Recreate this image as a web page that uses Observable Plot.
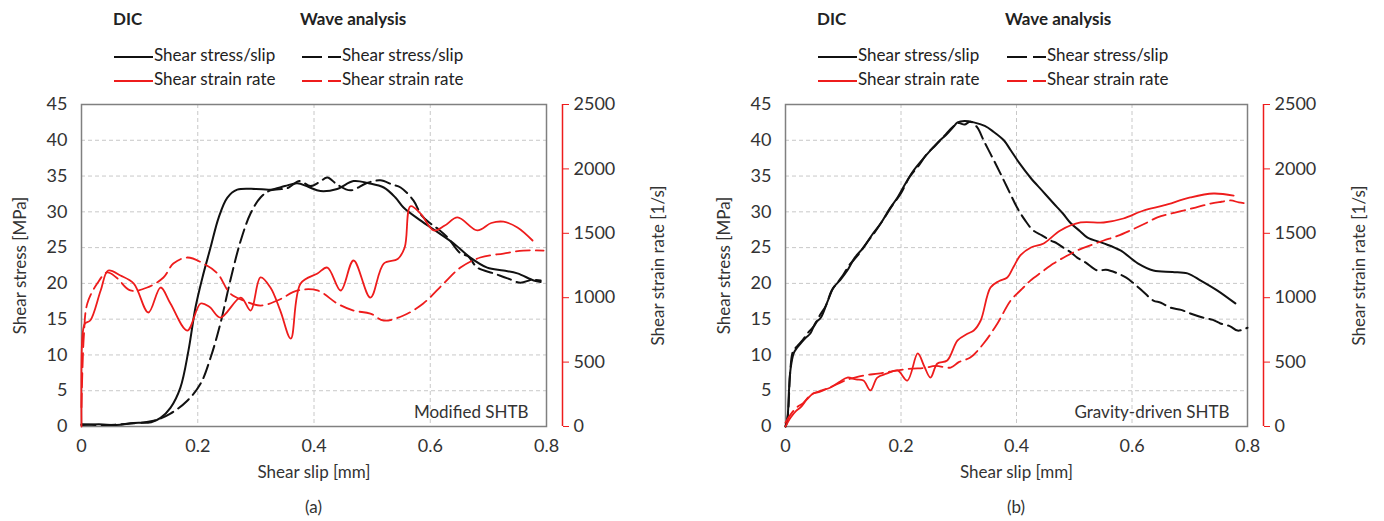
<!DOCTYPE html>
<html>
<head>
<meta charset="utf-8">
<script src="https://cdn.jsdelivr.net/npm/d3@7"></script>
<script src="https://cdn.jsdelivr.net/npm/@observablehq/plot@0.6"></script>
<style>
  body { margin: 0; background: #fff; }
  #root { position: relative; width: 1384px; height: 521px; font-family: Lato, "Open Sans", sans-serif; color: #333; overflow: hidden; }
  .panel { position: absolute; top: 0; width: 692px; height: 521px; }
  .panel svg.layer { position: absolute; left: 0; top: 90px; }
  .lg { position: absolute; font-size: 17px; line-height: 20px; white-space: nowrap; color: #222; }
  .lg.bold { font-weight: bold; }
  .cap { position: absolute; top: 496px; font-size: 17px; color: #333; transform: translateX(-50%); }
</style>
</head>
<body>
<div id="root"></div>
<script>
// Shear slip axis ticks and strain-rate axis ticks
const slipTicks = [0, 0.2, 0.4, 0.6, 0.8];
const stressTicks = [0, 5, 10, 15, 20, 25, 30, 35, 40, 45];
const rateTicks = [0, 500, 1000, 1500, 2000, 2500];

// (a) Modified SHTB — [shear slip (mm), shear stress (MPa)]
const aDicStress = [[0,0.2],[0.03,0.3],[0.06,0.2],[0.09,0.5],[0.12,0.6],[0.136,1.2],[0.153,2.6],[0.17,5.4],[0.184,10.6],[0.196,16.6],[0.208,20.8],[0.222,25],[0.236,29.2],[0.251,32],[0.268,33.1],[0.3,33.2],[0.325,33.1],[0.35,33.6],[0.371,34.0],[0.39,33.5],[0.411,32.9],[0.44,33.2],[0.468,34.3],[0.494,34.0],[0.52,33.4],[0.54,32],[0.554,30.6],[0.583,28.8],[0.612,27.2],[0.64,25.6],[0.669,23.6],[0.698,22.2],[0.726,21.8],[0.75,21.4],[0.778,20.4],[0.79,20.2]];
const aWaveStress = [[0,0.3],[0.04,0.2],[0.08,0.4],[0.124,0.8],[0.153,1.8],[0.182,3.6],[0.205,6],[0.222,9.6],[0.239,14.4],[0.256,20.4],[0.274,26],[0.291,29.8],[0.308,32],[0.325,33],[0.354,33.3],[0.375,34.3],[0.394,33.6],[0.41,34.2],[0.423,34.8],[0.44,33.8],[0.463,33.0],[0.49,34.0],[0.514,34.4],[0.535,33.8],[0.549,33.4],[0.571,31.6],[0.585,29.5],[0.6,28.4],[0.615,27.5],[0.63,26.4],[0.652,24.2],[0.665,23.8],[0.681,22.2],[0.709,21.4],[0.733,20.7],[0.755,20.1],[0.775,20.5],[0.79,20.4]];
// (a) — [shear slip (mm), shear strain rate (1/s)]
const aDicRate = [[0,0],[0.002,720],[0.006,800],[0.015,823],[0.033,1056],[0.046,1211],[0.067,1172],[0.09,1110],[0.115,885],[0.136,1079],[0.153,955],[0.182,745],[0.205,955],[0.22,930],[0.239,846],[0.274,1001],[0.291,900],[0.308,1157],[0.325,1079],[0.342,900],[0.36,683],[0.377,1110],[0.406,1188],[0.423,1234],[0.446,1056],[0.468,1289],[0.497,1001],[0.52,1265],[0.544,1300],[0.556,1390],[0.566,1710],[0.583,1654],[0.606,1522],[0.625,1560],[0.647,1623],[0.681,1522],[0.705,1580],[0.726,1590],[0.75,1545],[0.776,1444]];
const aWaveRate = [[0,150],[0.004,700],[0.01,955],[0.027,1110],[0.044,1196],[0.06,1157],[0.084,1056],[0.113,1079],[0.141,1157],[0.158,1265],[0.182,1312],[0.21,1265],[0.234,1188],[0.256,1032],[0.279,978],[0.308,939],[0.337,978],[0.372,1056],[0.406,1056],[0.44,955],[0.468,900],[0.497,877],[0.52,823],[0.554,862],[0.588,955],[0.623,1110],[0.652,1234],[0.686,1312],[0.726,1343],[0.76,1366],[0.795,1366]];

// (b) Gravity-driven SHTB — [shear slip (mm), shear stress (MPa)]
const bDicStress = [[0,0],[0.003,0.8],[0.006,5],[0.009,8.2],[0.014,10.2],[0.02,11],[0.026,11.6],[0.035,12.4],[0.043,13],[0.052,14.5],[0.061,15.2],[0.072,17.3],[0.083,19.4],[0.095,20.5],[0.107,21.8],[0.12,23.6],[0.135,25],[0.15,26.8],[0.165,28.4],[0.18,30.4],[0.194,32],[0.208,34],[0.222,35.8],[0.236,37.2],[0.251,38.6],[0.265,39.8],[0.28,40.9],[0.29,41.8],[0.298,42.5],[0.31,42.7],[0.326,42.5],[0.345,42],[0.36,41.2],[0.378,40],[0.39,38.6],[0.405,36.8],[0.424,34.8],[0.444,33],[0.464,31.2],[0.48,29.8],[0.494,28.4],[0.51,27.3],[0.523,26.4],[0.551,25.6],[0.58,24.6],[0.61,22.8],[0.637,21.8],[0.67,21.6],[0.696,21.4],[0.719,20.4],[0.748,19],[0.779,17.2]];
const bWaveStress = [[0,0],[0.004,1.5],[0.008,7.5],[0.013,10.5],[0.02,11.2],[0.03,12.1],[0.04,13.2],[0.05,14.1],[0.06,15.6],[0.07,16.9],[0.08,19.0],[0.09,20.1],[0.1,21.2],[0.11,22.5],[0.125,23.9],[0.14,25.6],[0.155,27.2],[0.17,29.0],[0.185,30.9],[0.2,32.6],[0.215,34.9],[0.23,36.4],[0.245,38.1],[0.26,39.3],[0.275,40.6],[0.29,41.9],[0.3,42.4],[0.31,42.2],[0.32,42.6],[0.332,41.8],[0.343,40.0],[0.355,38.1],[0.367,36.2],[0.378,34.4],[0.39,32.4],[0.401,30.6],[0.415,28.8],[0.429,27.4],[0.444,26.7],[0.459,26],[0.47,25.6],[0.481,25],[0.493,24.4],[0.505,23.6],[0.52,22.9],[0.54,21.8],[0.555,21.9],[0.575,21.4],[0.59,20.8],[0.603,20],[0.62,18.8],[0.637,17.6],[0.65,17.3],[0.667,16.6],[0.685,16.3],[0.701,15.8],[0.724,15.2],[0.74,14.9],[0.753,14.4],[0.77,14.0],[0.783,13.4],[0.8,13.8]];
// (b) — [shear slip (mm), shear strain rate (1/s)]
const bDicRate = [[0,0],[0.009,70],[0.018,120],[0.026,148],[0.037,210],[0.048,256],[0.063,280],[0.078,303],[0.093,345],[0.107,380],[0.122,365],[0.135,357],[0.147,280],[0.159,380],[0.175,410],[0.194,435],[0.211,357],[0.229,567],[0.24,470],[0.251,380],[0.263,489],[0.28,512],[0.298,668],[0.315,720],[0.326,745],[0.338,823],[0.355,1079],[0.37,1130],[0.384,1157],[0.395,1240],[0.407,1330],[0.425,1390],[0.447,1421],[0.476,1522],[0.511,1584],[0.551,1584],[0.585,1615],[0.62,1677],[0.655,1716],[0.701,1778],[0.741,1809],[0.776,1793]];
const bWaveRate = [[0,30],[0.01,100],[0.02,150],[0.03,180],[0.045,250],[0.06,270],[0.075,300],[0.09,330],[0.105,360],[0.12,380],[0.14,400],[0.16,410],[0.18,425],[0.2,440],[0.22,450],[0.24,455],[0.26,470],[0.286,458],[0.3,500],[0.32,536],[0.343,644],[0.367,800],[0.39,978],[0.41,1070],[0.424,1133],[0.444,1200],[0.464,1265],[0.485,1320],[0.505,1366],[0.53,1410],[0.551,1444],[0.575,1480],[0.597,1522],[0.62,1570],[0.644,1623],[0.665,1650],[0.689,1677],[0.71,1700],[0.736,1731],[0.755,1745],[0.771,1755],[0.785,1740],[0.8,1731]];

const legendStress = "Shear stress/slip";
const legendRate = "Shear strain rate";

const RED = "#ee1c1c";
const DASH = "14,6";
const W = 692, H = 400, MT = 14, MB = 64;

const panels = [
  {left: 0, mL: 81, mR: 146, note: "Modified SHTB", caption: "(a)",
   dicStress: aDicStress, waveStress: aWaveStress, dicRate: aDicRate, waveRate: aWaveRate,
   lgDic: 113, lgWave: 300},
  {left: 692, mL: 93, mR: 137, note: "Gravity-driven SHTB", caption: "(b)",
   dicStress: bDicStress, waveStress: bWaveStress, dicRate: bDicRate, waveRate: bWaveRate,
   lgDic: 125, lgWave: 313}
];

const xy = {x: d => d[0], y: d => d[1]};
const root = document.getElementById("root");

function legendSwatch(color, dashed) {
  const ns = "http://www.w3.org/2000/svg";
  const s = document.createElementNS(ns, "svg");
  s.setAttribute("width", 40); s.setAttribute("height", 6);
  s.style.verticalAlign = "middle";
  const l = document.createElementNS(ns, "line");
  l.setAttribute("x1", 0); l.setAttribute("x2", 39); l.setAttribute("y1", 3); l.setAttribute("y2", 3);
  l.setAttribute("stroke", color); l.setAttribute("stroke-width", 2.2);
  if (dashed) l.setAttribute("stroke-dasharray", "20,6");
  s.appendChild(l);
  return s;
}

function addLegendItem(div, x, top, color, dashed, text) {
  const e = document.createElement("div");
  e.className = "lg";
  e.style.left = x + "px"; e.style.top = top + "px";
  e.appendChild(legendSwatch(color, dashed));
  e.appendChild(document.createTextNode(text));
  div.appendChild(e);
}

for (const p of panels) {
  const div = document.createElement("div");
  div.className = "panel";
  div.style.left = p.left + "px";
  root.appendChild(div);

  // legend headings and entries
  for (const [x, t] of [[p.lgDic, "DIC"], [p.lgWave, "Wave analysis"]]) {
    const e = document.createElement("div");
    e.className = "lg bold"; e.style.left = x + "px"; e.style.top = "9px"; e.textContent = t;
    div.appendChild(e);
  }
  addLegendItem(div, p.lgDic + 1, 45, "#111", false, legendStress);
  addLegendItem(div, p.lgWave + 2, 45, "#111", true, legendStress);
  addLegendItem(div, p.lgDic + 1, 69, RED, false, legendRate);
  addLegendItem(div, p.lgWave + 2, 69, RED, true, legendRate);

  const common = {
    width: W, height: H, marginTop: MT, marginBottom: MB, marginLeft: p.mL, marginRight: p.mR,
    x: {domain: [0, 0.8]}
  };

  // stress layer: grid, frame, black curves, left and bottom axes
  const stressPlot = Plot.plot({
    ...common,
    style: {fontFamily: "Lato, sans-serif", fontSize: "18px", color: "#333", background: "transparent"},
    y: {domain: [0, 45]},
    marks: [
      Plot.gridX({ticks: [0.2, 0.4, 0.6], stroke: "#c8c8c8", strokeOpacity: 1, strokeDasharray: "4,3"}),
      Plot.gridY({ticks: stressTicks.slice(1, -1), stroke: "#c8c8c8", strokeOpacity: 1, strokeDasharray: "4,3"}),
      Plot.frame({stroke: "#808080", strokeWidth: 1.5}),
      Plot.line(p.waveStress, {...xy, stroke: "#111", strokeWidth: 2, strokeDasharray: DASH, curve: "catmull-rom"}),
      Plot.line(p.dicStress, {...xy, stroke: "#111", strokeWidth: 2, curve: "catmull-rom"}),
      Plot.axisX({ticks: slipTicks, tickSize: 0, tickPadding: 13, tickFormat: d3.format("~g"), label: null, fill: "#333"}),
      Plot.axisY({ticks: stressTicks, tickSize: 0, tickPadding: 14, tickFormat: d3.format("d"), label: null, fill: "#333"}),
      Plot.text(["Shear slip [mm]"], {frameAnchor: "bottom", dy: 51, fontSize: 17, fill: "#333"}),
      Plot.text(["Shear stress [MPa]"], {frameAnchor: "left", dx: -61, rotate: -90, textAnchor: "middle", fontSize: 17, fill: "#333"}),
      Plot.text([p.note], {frameAnchor: "bottom-right", dx: -18, dy: -9, fontSize: 17, fill: "#333"})
    ]
  });
  stressPlot.classList.add("layer");
  div.appendChild(stressPlot);

  // strain-rate layer: red curves and the right-hand axis
  const ratePlot = Plot.plot({
    ...common,
    style: {fontFamily: "Lato, sans-serif", fontSize: "18px", color: "#333", background: "transparent"},
    x: {domain: [0, 0.8], axis: null},
    y: {domain: [0, 2500]},
    marks: [
      Plot.line(p.waveRate, {...xy, stroke: RED, strokeWidth: 1.8, strokeDasharray: DASH, curve: "catmull-rom"}),
      Plot.line(p.dicRate, {...xy, stroke: RED, strokeWidth: 1.8, curve: "catmull-rom"}),
      Plot.ruleX([0.8], {dx: 16, stroke: RED, strokeWidth: 1.5}),
      Plot.axisY({anchor: "right", ticks: rateTicks, tickSize: 6, tickPadding: 5, dx: 16, stroke: RED, fill: "#333", tickFormat: d3.format("d"), label: null}),
      Plot.text(["Shear strain rate [1/s]"], {frameAnchor: "right", dx: 112, rotate: -90, textAnchor: "middle", fontSize: 17, fill: "#333"})
    ]
  });
  ratePlot.classList.add("layer");
  div.appendChild(ratePlot);

  const cap = document.createElement("div");
  cap.className = "cap";
  cap.style.left = (p.mL + (W - p.mL - p.mR) / 2) + "px";
  cap.textContent = p.caption;
  div.appendChild(cap);
}
</script>
</body>
</html>
